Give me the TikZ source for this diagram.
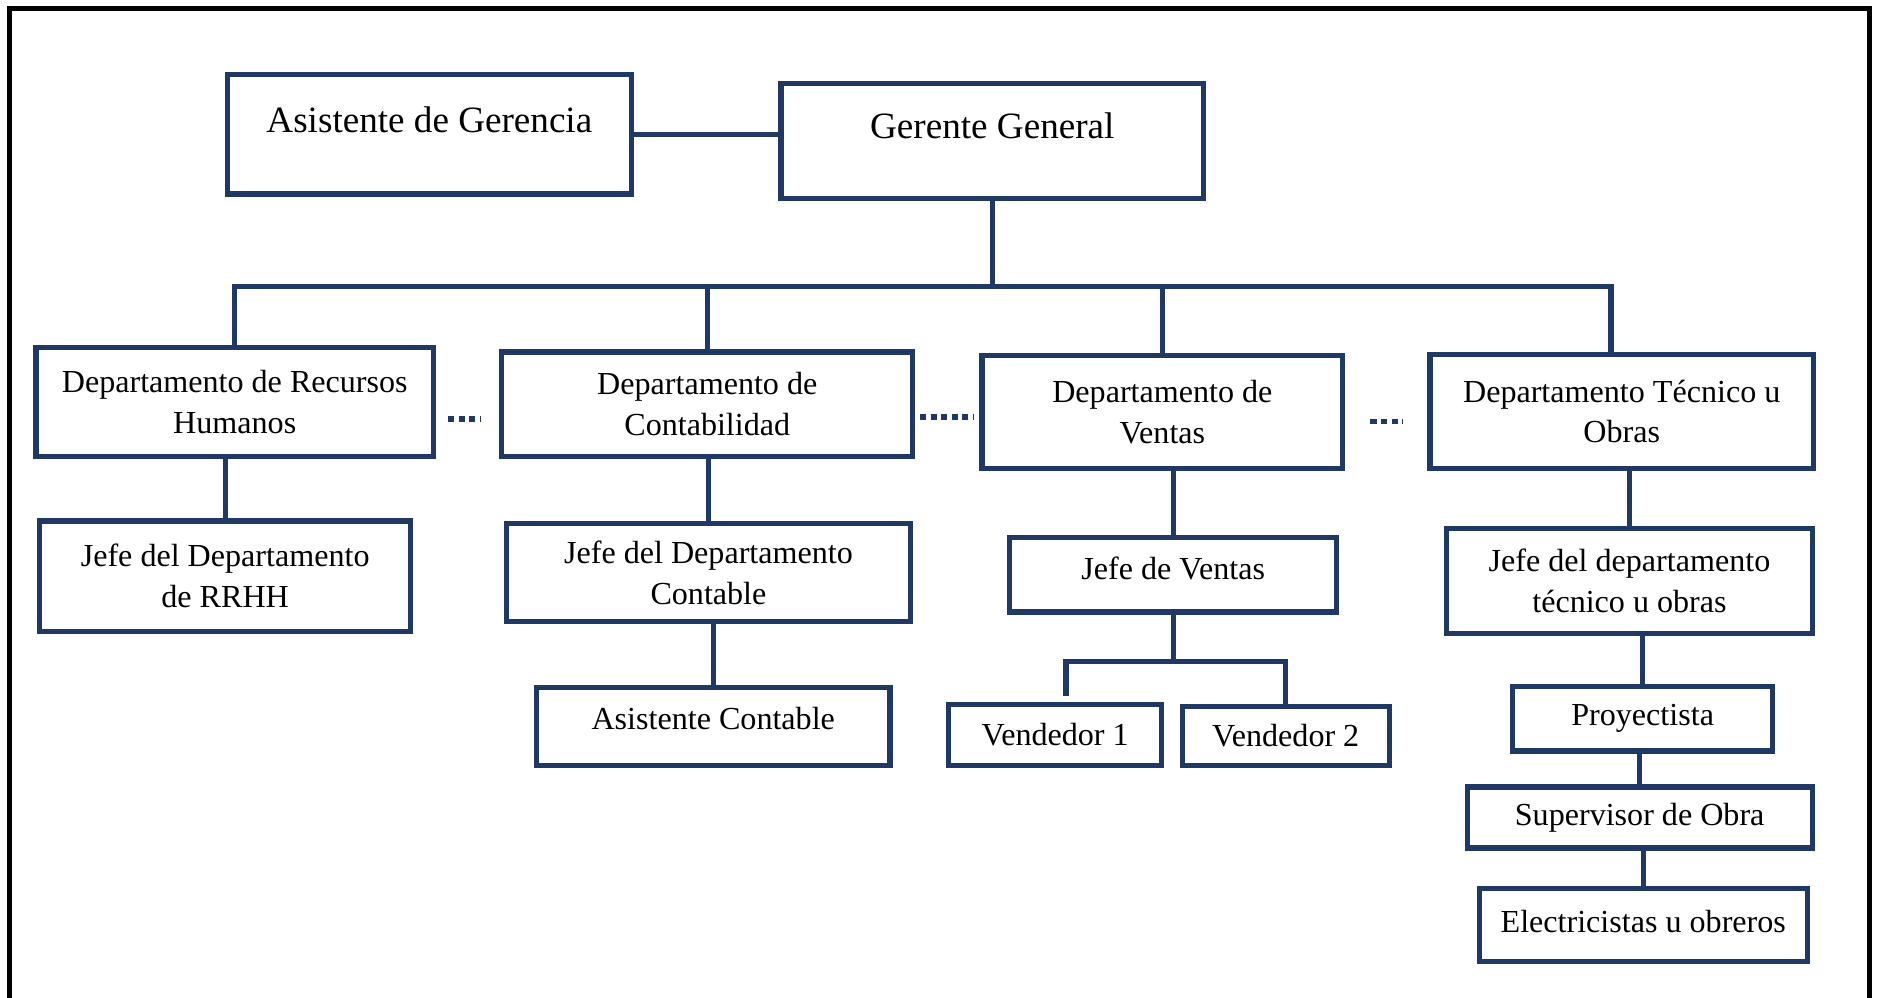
\documentclass[tikz,border=0pt]{standalone}
\usepackage{fontspec}
\setmainfont{Liberation Serif}

\definecolor{navy}{RGB}{31,56,100}

\begin{document}
\begin{tikzpicture}[x=0.5pt,y=-0.5pt]
  \tikzset{box/.style = {shape=rectangle,draw=navy,line width=2.2pt,inner sep=2pt,align=center,font=\fontsize{13.4}{17}\selectfont}}
  \tikzset{big/.style = {font=\fontsize{15.5}{19}\selectfont}}
  \tikzset{wh/.style 2 args = {minimum width=#1,minimum height=#2}}
  \tikzset{lift/.style = {text depth=#1}}
  \tikzset{link/.style = {draw=navy,line width=2.2pt}}
  \tikzset{dotlink/.style = {draw=navy,line width=2.4pt,dash pattern=on 2.6pt off 1.8pt}}

  \useasboundingbox (0,0) rectangle (1568,833);
  \draw[line width=2.2pt] (8,7) rectangle (1561,870);

  % top
	\node[box,big,lift=12pt,wh={168.5pt}{50pt}] (asist) at (358.5,112) {Asistente de Gerencia};
	\node[box,big,lift=13pt,wh={176.5pt}{48pt}] (gerente) at (828.5,118) {Gerente General};

  % departamentos
	\node[box,wh={166pt}{45.5pt}] (rrhh) at (196,335.5) {Departamento de Recursos\\Humanos};
	\node[box,wh={171.5pt}{43.5pt}] (cont) at (590.5,337.5) {Departamento de\\Contabilidad};
	\node[box,wh={150.5pt}{47pt}] (ventas) at (970.5,344) {Departamento de\\Ventas};
	\node[box,wh={160pt}{47.5pt}] (tec) at (1354,343.5) {Departamento Técnico u\\Obras};

  % jefes
	\node[box,wh={155pt}{46pt}] (jrrhh) at (188,481) {Jefe del Departamento\\de RRHH};
	\node[box,wh={168.5pt}{41pt}] (jcont) at (591.5,478) {Jefe del Departamento\\Contable};
	\node[box,lift=6pt,wh={136.5pt}{31pt}] (jventas) at (979.5,480) {Jefe de Ventas};
	\node[box,wh={152.5pt}{44pt}] (jtec) at (1360.5,485) {Jefe del departamento\\técnico u obras};

  % personal
	\node[box,lift=6.5pt,wh={147.5pt}{32.5pt}] (asistc) at (595.5,606.5) {Asistente Contable};
	\node[box,wh={89pt}{25.5pt}] (vend1) at (881,613.5) {Vendedor 1};
	\node[box,wh={86.5pt}{24.5pt}] (vend2) at (1073.5,614.5) {Vendedor 2};
	\node[box,wh={108.5pt}{27pt}] (proy) at (1371.5,600) {Proyectista};
	\node[box,wh={144pt}{25.5pt}] (sup) at (1369,682.5) {Supervisor de Obra};
	\node[box,lift=3.5pt,wh={137pt}{30.5pt}] (elec) at (1372,772.5) {Electricistas u obreros};

	\draw[link] (asist.east) -- (asist.east -| gerente.west);
	\coordinate (bus) at (828.5,239);
	\draw[link] (gerente.south) -- (bus);
	\draw[link] (rrhh.north) |- (bus) -| ([xshift=-4.5pt]tec.north);
	\foreach \d in {cont, ventas}
    \draw[link] (\d.north |- bus) -- (\d.north);

       \foreach \up/\down in {rrhh/jrrhh, cont/jcont, ventas/jventas, tec/jtec, jcont/asistc, jtec/proy, proy/sup, sup/elec}
    \draw[link] (\down.north |- \up.south) -- (\down.north);

	\draw[link] (jventas.south) -- ++(0,39) coordinate (vbus);
	\draw[link,shorten <=2.5pt] ([xshift=4.5pt]vend1.north) |- (vbus) -| (vend2.north);

	\draw[dotlink,shorten <=5pt,shorten >=7.5pt] (rrhh.east |- 0,350) -- (cont.west |- 0,350);
	\draw[dotlink,shorten <=2pt,shorten >=2.5pt] (cont.east |- 0,348) -- (ventas.west |- 0,348);
	\draw[dotlink,shorten <=10.5pt,shorten >=10pt] (ventas.east |- 0,352) -- (tec.west |- 0,352);
\end{tikzpicture}
\end{document}
